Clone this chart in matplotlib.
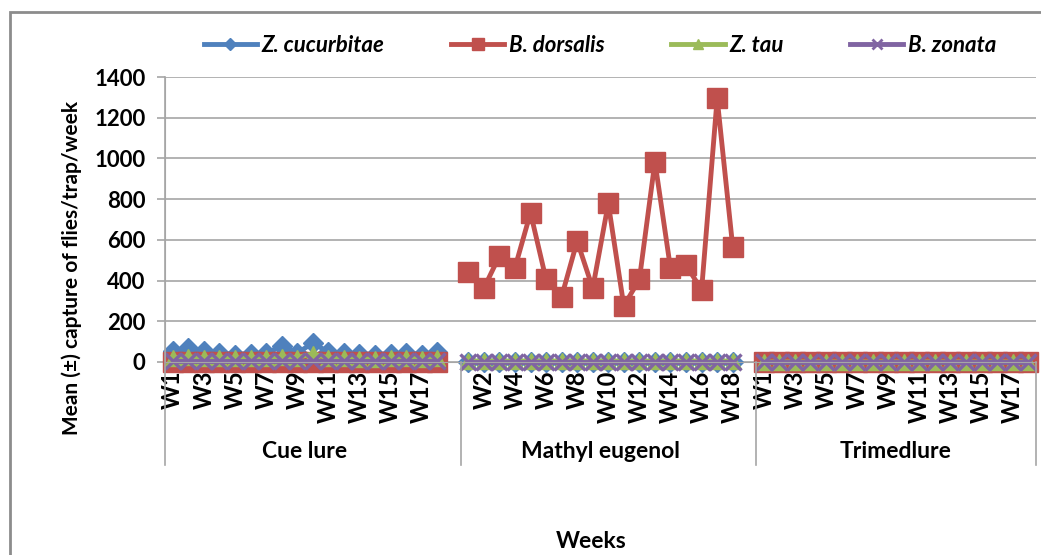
import matplotlib.pyplot as plt
import numpy as np
from matplotlib.lines import Line2D
from matplotlib.patches import Rectangle
import matplotlib.transforms as mtransforms

plt.rcParams['font.family'] = ['Lato', 'DejaVu Sans']

weeks = ["W%d" % i for i in range(1, 19)]
groups = ["Cue lure", "Mathyl eugenol", "Trimedlure"]
species = ["Z. cucurbitae", "B. dorsalis", "Z. tau", "B. zonata"]

# mean capture per week, one list per lure
cue_zc = [54, 69, 54, 44, 36, 41, 44, 77, 44, 93, 49, 44, 40, 36, 40, 44, 36, 49]
cue_bd = [0, 0, 0, 0, 0, 0, 0, 0, 0, 0, 0, 0, 0, 0, 0, 0, 0, 0]
cue_zt = [20, 25, 20, 22, 18, 20, 22, 25, 22, 40, 20, 18, 15, 15, 18, 18, 15, 18]
cue_bz = [3, 3, 3, 3, 3, 3, 3, 3, 3, 3, 3, 3, 3, 3, 3, 3, 3, 3]

me_zc = [0, 0, 0, 0, 0, 0, 0, 0, 0, 0, 0, 0, 0, 0, 0, 0, 0, 0]
me_bd = [443, 362, 521, 463, 733, 406, 321, 594, 362, 779, 275, 406, 984, 460, 476, 354, 1295, 566]
me_zt = [5, 5, 5, 5, 5, 5, 5, 5, 5, 5, 5, 5, 5, 5, 5, 5, 5, 5]
me_bz = [2, 2, 2, 2, 2, 2, 2, 2, 2, 2, 2, 2, 2, 2, 2, 2, 2, 2]

tri_zc = [0, 0, 0, 0, 0, 0, 0, 0, 0, 0, 0, 0, 0, 0, 0, 0, 0, 0]
tri_bd = [0, 0, 0, 0, 0, 0, 0, 0, 0, 0, 0, 0, 0, 0, 0, 0, 0, 0]
tri_zt = [0, 0, 0, 0, 0, 0, 0, 0, 0, 0, 0, 0, 0, 0, 0, 0, 0, 0]
tri_bz = [0, 0, 0, 0, 0, 0, 0, 0, 0, 0, 0, 0, 0, 0, 0, 0, 0, 0]

colors = ["#4F81BD", "#C0504D", "#9BBB59", "#8064A2"]
markers = ["D", "s", "^", "x"]
msizes = [10, 14, 12, 12]


def join(a, b, c):
    # blank category after the first two groups, like the spreadsheet
    return np.array(list(a) + [np.nan] + list(b) + [np.nan] + list(c), dtype=float)


series = [join(cue_zc, me_zc, tri_zc), join(cue_bd, me_bd, tri_bd),
          join(cue_zt, me_zt, tri_zt), join(cue_bz, me_bz, tri_bz)]
cats = list(weeks) + [""] + list(weeks) + [""] + list(weeks)
x = np.arange(len(cats))

W, H = 1041, 555
fig = plt.figure(figsize=(W / 100, H / 100), dpi=100)
ax = fig.add_axes([165 / W, 1 - 362 / H, (1036 - 165) / W, (362 - 77) / H])

for s, c, m, ms in zip(series, colors, markers, msizes):
    ax.plot(x, s, color=c, lw=3.5, marker=m, ms=ms, mew=2.4 if m == "x" else 1,
            mec=c, mfc=c, clip_on=False)

ax.set_xlim(-0.5, len(cats) - 0.5)
ax.set_ylim(0, 1400)
ax.set_yticks(np.arange(0, 1401, 200))
ax.grid(axis="y", color="#A6A6A6", lw=1.2)
ax.set_axisbelow(True)
for sp in ["top", "right"]:
    ax.spines[sp].set_visible(False)
ax.spines["left"].set_color("#A6A6A6")
ax.spines["bottom"].set_color("#A6A6A6")
ax.spines["left"].set_bounds(0, 1400)
ax.tick_params(axis="y", length=6, width=1.2, color="#A6A6A6", pad=8, labelsize=16)
for t in ax.get_yticklabels():
    t.set_fontweight("bold")

ax.set_xticks(x[::2])
ax.set_xticklabels(cats[::2], rotation=90, fontsize=17, fontweight="bold", va="top")
ax.tick_params(axis="x", length=0, pad=6)

# group boundaries and group names below the week labels
trans = mtransforms.blended_transform_factory(ax.transData, ax.transAxes)
low = -(465 - 362) / 285
for b in [-0.5, 18.5, 37.5, len(cats) - 0.5]:
    ax.plot([b, b], [0 if b > 0 else 1, low], transform=trans, color="#A6A6A6",
            lw=1.2, clip_on=False)
starts = [0, 19, 38]
for g, st in zip(groups, starts):
    ax.text(st + 8.5, -(452 - 362) / 285, g, transform=trans, ha="center",
            va="center", fontsize=16.5, fontweight="bold")

fig.text(72 / W, 1 - 268 / H, "Mean (±) capture of flies/trap/week", rotation=90,
         ha="center", va="center", fontsize=15, fontweight="bold")
fig.text(591 / W, 1 - 541 / H, "Weeks", ha="center", va="center",
         fontsize=16.5, fontweight="bold")

handles = [Line2D([], [], color=c, lw=3.5, marker=m, ms=ms * 0.6,
                  mew=2 if m == "x" else 1, mec=c, mfc=c)
           for c, m, ms in zip(colors, markers, msizes)]
fig.legend(handles, species, loc="center", bbox_to_anchor=(600 / W, 1 - 45 / H),
           ncol=4, frameon=False, handlelength=2.4, handletextpad=0.2,
           columnspacing=3.0, prop={"size": 16, "weight": "bold", "style": "italic"})

fig.add_artist(Rectangle((10 / W, -0.1), 1.2, 1.1 - 12 / H, transform=fig.transFigure,
                         fill=False, ec="#8C8C8C", lw=2))

fig.savefig("out.png", dpi=100)
